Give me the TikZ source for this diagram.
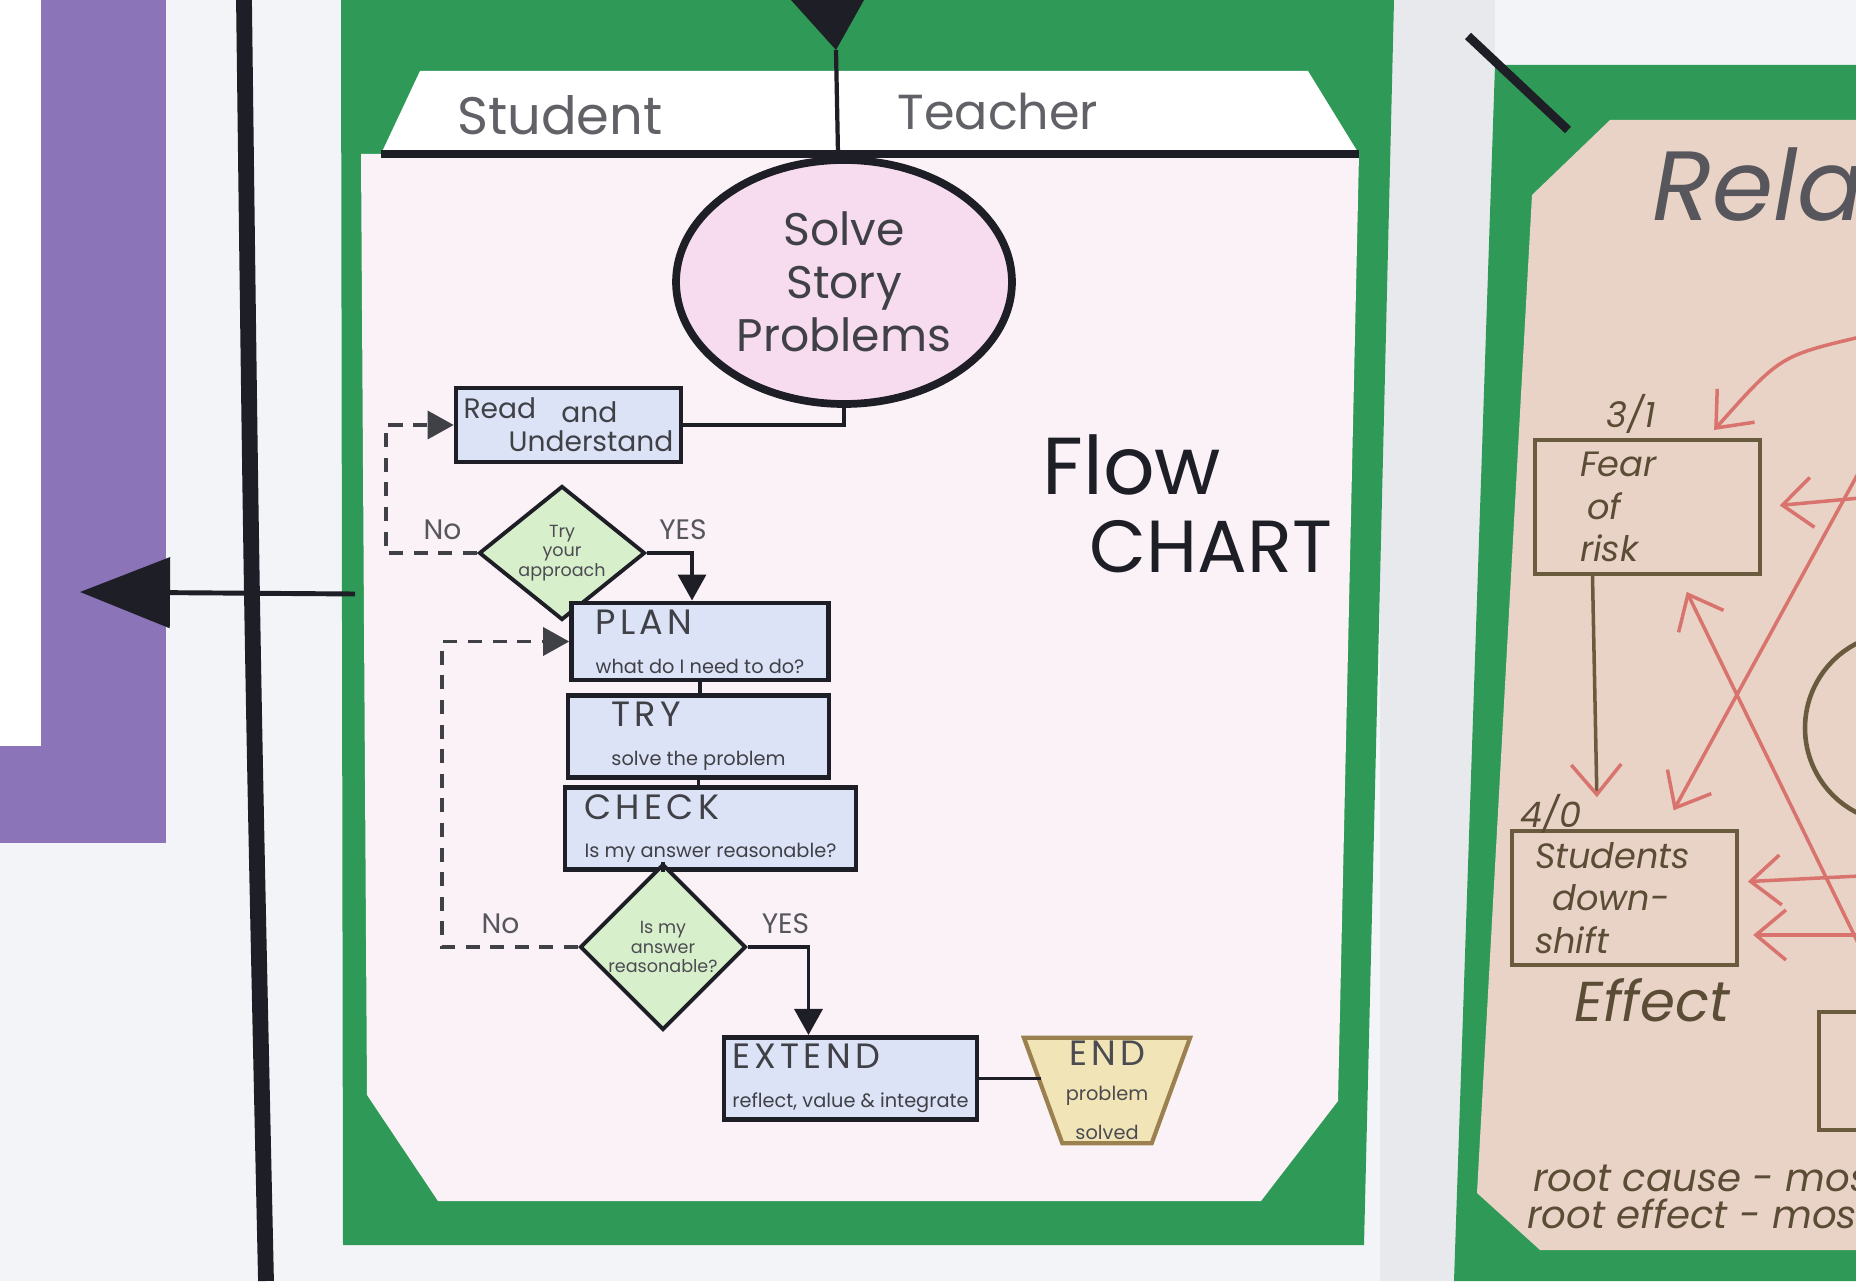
\documentclass[tikz,border=0pt]{standalone}
\usepackage{fontspec}
\setmainfont{Poppins}
\usetikzlibrary{arrows.meta, positioning, shapes.geometric}
\definecolor{wall}{HTML}{F2F4F7}
\definecolor{gapgray}{HTML}{DDDFE4}
\definecolor{lilac}{HTML}{8C74B8}
\definecolor{boardgreen}{HTML}{2F9A57}
\definecolor{paper}{HTML}{FAF2F6}
\definecolor{cream}{HTML}{E9D3C6}
\definecolor{pinkfill}{HTML}{F7DCEF}
\definecolor{boxblue}{HTML}{DCE3F6}
\definecolor{mint}{HTML}{D8EFCB}
\definecolor{sand}{HTML}{F1E4B6}
\definecolor{sandline}{HTML}{9C8150}
\definecolor{ink}{HTML}{1E1E26}
\definecolor{pencil}{HTML}{6A5A3E}
\definecolor{redpen}{HTML}{D9736E}

\newcommand{\boxhead}{\fontsize{10}{11}\selectfont\addfontfeature{LetterSpace=12}}
\newcommand{\boxnote}{\fontsize{5.5}{6}\selectfont}

\begin{document}
\begin{tikzpicture}[
  >={Triangle[length=2.6mm, width=2.8mm]},
  flowbox/.style={rectangle, draw=ink, line width=1.3pt, fill=boxblue, align=left,
                  inner sep=2pt, text=ink!85},
  decision/.style={diamond, draw=ink, line width=1.1pt, fill=mint, inner sep=0pt,
                   align=center, font=\fontsize{5}{5.5}\selectfont, text=ink!80},
  goal/.style={ellipse, draw=ink, line width=2.2pt, fill=pinkfill, align=center,
               font=\fontsize{13}{15}\selectfont, text=ink!85},
  link/.style={ink, line width=1pt},
  loopline/.style={ink!85, line width=0.9pt, dash pattern=on 4pt off 3pt},
  tag/.style={font=\fontsize{8}{8}\selectfont, text=ink!75},
  sketchbox/.style={rectangle, draw=pencil, line width=1.2pt, align=left},
  hand/.style={font=\itshape\fontsize{10}{12}\selectfont, text=pencil!85!black},
  redarrow/.style={redpen, line width=1pt, -{Straight Barb[length=3mm, width=5mm]}},
]
\useasboundingbox (0,0) rectangle (18.56,12.81);
\clip (0,0) rectangle (18.56,12.81);

% Wall and the strip between the boards
\fill[wall] (0,0) rectangle (18.56,12.81);
\fill[gapgray!70] (13.80,0) rectangle (14.95,12.81);

% Purple board on the left
\fill[lilac] (0,4.38) rectangle (1.66,12.81);
\fill[white] (0,5.35) rectangle (0.41,12.81);

% Black cord
\draw[ink, line width=4.5pt] (2.44,12.81) .. controls (2.52,6.4) .. (2.66,0);

% ============ Flow chart board ============
\fill[boardgreen] (3.41,12.81) -- (13.94,12.81) -- (13.64,0.36) -- (3.43,0.36) -- cycle;
\fill[white] (4.20,12.10) -- (13.08,12.10) -- (13.59,11.27) -- (3.81,11.27) -- cycle;
\fill[paper] (3.61,11.27) -- (13.59,11.27) -- (13.38,1.80) -- (12.61,0.80)
  -- (4.38,0.80) -- (3.67,1.86) -- cycle;
\draw[ink, line width=2pt] (3.81,11.27) -- (13.59,11.27);

% Pointer at the top and column divider
\fill[ink] (7.91,12.81) -- (8.64,12.81) -- (8.36,12.31) -- cycle;
\draw[ink, line width=1.2pt] (8.36,12.31) -- (8.38,11.27);

% Column heads
\node[font=\fontsize{15}{15}\selectfont, text=ink!70] (student) at (5.60,11.66) {Student};
\node[font=\fontsize{14}{14}\selectfont, text=ink!70] (teacher) at (9.98,11.69) {Teacher};

% Start
\node[goal, minimum width=2.88cm, minimum height=2.44cm] (goal) at (8.44,9.99)
  {Solve\\Story\\Problems};

% Steps
\node[flowbox, minimum width=2.25cm, minimum height=0.74cm, font=\fontsize{8}{8.5}\selectfont]
  (read) at (5.685,8.56) {Read\hspace{0.9em}\raisebox{-1pt}{and}\\[1pt]\hspace*{1.6em}Understand};
\node[decision, minimum width=1.66cm, minimum height=1.34cm, aspect=1.24]
  (try1) at (5.62,7.28) {Try\\your\\approach};
\node[flowbox, minimum width=2.57cm, minimum height=0.71cm] (plan) at (7.0,6.395)
  {{\boxhead PLAN}\\[-1pt]\boxnote what do I need to do?};
\node[flowbox, minimum width=2.61cm, minimum height=0.65cm] (try) at (6.985,5.445)
  {{\boxhead TRY}\\[-1pt]\boxnote solve the problem};
\node[flowbox, minimum width=2.91cm, minimum height=0.71cm] (check) at (7.105,4.525)
  {{\boxhead CHECK}\\[-1pt]\boxnote Is my answer reasonable?};
\node[decision, minimum width=1.66cm, minimum height=1.66cm] (try2) at (6.63,3.34)
  {Is my\\answer\\reasonable?};
\node[flowbox, minimum width=2.53cm, minimum height=0.69cm] (extend) at (8.505,2.025)
  {{\boxhead EXTEND}\\[-1pt]\boxnote reflect, value \& integrate};
\node[trapezium, shape border rotate=180, trapezium angle=70, trapezium stretches=true,
      draw=sandline, line width=1.2pt, fill=sand, minimum width=1.66cm, minimum height=0.79cm,
      inner sep=1pt, align=center, text=ink!80] (endbox) at (11.07,1.905)
  {{\boxhead END}\\[-2pt]\boxnote problem\\[-1pt]\boxnote solved};

% Connectors
\draw[link] (goal.south) |- (read.east);
\draw[loopline, ->] (try1.west) -- node[tag, above, pos=0.38] {No} ++(-0.91,0) |- (read.west);
\draw[link, ->] (try1.east) -| node[tag, above, pos=0.4] {YES} ([xshift=-0.08cm]plan.north);
\draw[link] (plan.south) -- (plan.south |- try.north);
\draw[link] (try.south) -- (try.south |- check.north);
\draw[link] (check.south -| try2.north) -- (try2.north);
\draw[loopline, ->] (try2.west) -- node[tag, above, pos=0.57] {No} ++(-1.36,0) |- (plan.west);
\draw[link, ->] (try2.east) -| node[tag, above, pos=0.31] {YES} ([xshift=-0.42cm]extend.north);
\draw[link] (extend.east) -- (extend.east -| endbox.west);

% Title
\node[font=\fontsize{23}{23}\selectfont, text=ink, anchor=west] (flowword) at (10.30,8.16) {Flow};
\node[font=\fontsize{21}{21}\selectfont, text=ink, anchor=west] (chartword) at (10.77,7.34) {CHART};

% Pointer out to the purple board
\coordinate (boardedge) at (3.55,6.87);
\coordinate (purpletip) at (0.80,6.89);
\draw[ink, line width=1.4pt, -{Triangle[length=9mm, width=7mm]}] (boardedge) -- (purpletip);

% ============ Relations board ============
\fill[boardgreen] (14.95,12.16) -- (18.56,12.16) -- (18.56,0) -- (14.54,0) -- cycle;
\fill[cream] (15.32,10.86) -- (16.10,11.61) -- (18.56,11.61) -- (18.56,0.31)
  -- (15.40,0.31) -- (14.77,0.88) -- cycle;
\draw[ink, line width=2.5pt] (14.68,12.45) -- (15.68,11.51);

\node[font=\itshape\fontsize{28}{28}\selectfont, text=ink!75, anchor=west] (reltitle)
  at (16.40,10.96) {Relat};

\node[sketchbox, hand, minimum width=2.25cm, minimum height=1.34cm, text width=1.35cm]
  (fear) at (16.475,7.74) {Fear\\\hspace*{0.2em}of\\risk};
\node[hand] (fearcount) at (16.31,8.67) {3/1};
\node[sketchbox, hand, minimum width=2.25cm, minimum height=1.22cm, text width=1.79cm]
  (students) at (16.245,3.83) {Students\\\hspace*{0.5em}down-\\shift};
\node[hand] (studcount) at (15.51,4.67) {4/0};
\node[hand, font=\itshape\fontsize{16}{16}\selectfont] (effect) at (16.52,2.81) {Effect};
\draw[pencil, line width=1.2pt] (18.19,2.69) rectangle (18.80,1.51);
\draw[pencil, line width=1.3pt] (19.00,5.53) circle (0.95);

\node[hand, font=\itshape\fontsize{11}{11}\selectfont, anchor=west] (causeline) at (15.21,1.03)
  {root cause - most};
\node[hand, font=\itshape\fontsize{11}{11}\selectfont, anchor=west] (effectline) at (15.15,0.67)
  {root effect - most};

% Red arrows coming in from the rest of the board
\coordinate (inA) at (18.60,9.44);
\coordinate (inB) at (18.60,7.83);
\coordinate (inC) at (18.60,8.11);
\coordinate (inD) at (18.60,3.34);
\coordinate (inE) at (18.60,4.05);
\coordinate (inF) at (18.60,3.46);
\draw[redarrow, shorten >=3pt] (inA) .. controls (17.80,9.25) .. ([xshift=-0.55cm]fear.north east);
\draw[redarrow, shorten >=5pt] (inB) -- (fear.east);
\draw[redarrow, shorten >=6pt] (inC) -- ([xshift=0.39cm]students.north);
\draw[redarrow, shorten >=5pt] (inD) -- ([xshift=0.315cm]fear.south);
\draw[pencil, line width=1pt, -{Straight Barb[color=redpen, length=3mm, width=5mm]}, shorten >=9pt]
  ([xshift=-0.55cm]fear.south) -- ([xshift=-0.27cm]students.north);
\draw[redarrow, shorten >=2.5pt] (inE) -- ([yshift=0.16cm]students.east);
\draw[redarrow, shorten >=4pt] (inF) -- ([yshift=-0.37cm]students.east);

\end{tikzpicture}
\end{document}
